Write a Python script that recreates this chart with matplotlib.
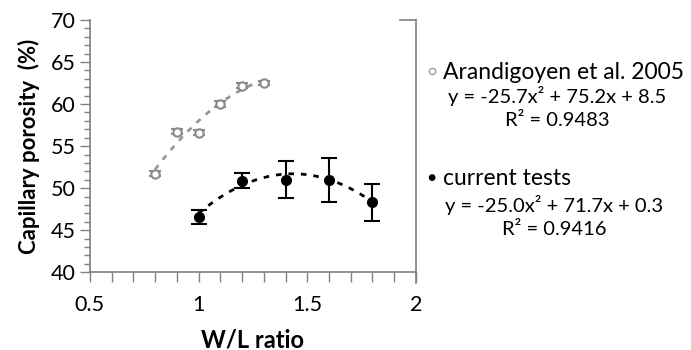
import numpy as np
import matplotlib.pyplot as plt
from matplotlib.ticker import MultipleLocator
from matplotlib.lines import Line2D

plt.rcParams['font.family'] = ['Lato', 'DejaVu Sans']

# data
wl_ar = [0.8, 0.9, 1.0, 1.1, 1.2, 1.3]
por_ar = [51.7, 56.7, 56.6, 60.0, 62.2, 62.5]
err_ar = [0.3, 0.3, 0.3, 0.4, 0.3, 0.2]

wl_cur = [1.0, 1.2, 1.4, 1.6, 1.8]
por_cur = [46.6, 50.9, 51.0, 51.0, 48.3]
err_cur = [0.8, 0.9, 2.2, 2.6, 2.2]

# trend line coefficients as printed on the chart
coef_ar = [-25.7, 75.2, 8.5]
coef_cur = [-25.0, 71.7, 0.3]

fig = plt.figure(figsize=(6.91, 3.5), dpi=100)
ax = fig.add_axes([0.130, 0.222, 0.472, 0.721])

gray = '#8a8a8a'
xa = np.linspace(min(wl_ar), max(wl_ar), 100)
ax.plot(xa, np.polyval(coef_ar, xa), ls=(0, (2, 2.5)), color='#999999', lw=2)
xc = np.linspace(min(wl_cur), max(wl_cur), 100)
ax.plot(xc, np.polyval(coef_cur, xc), ls=(0, (2, 2.5)), color='black', lw=2)

ax.errorbar(wl_ar, por_ar, yerr=err_ar, fmt='o', mfc='white', mec=gray, ecolor=gray,
            ms=6, mew=1.5, capsize=4, elinewidth=1.2, capthick=1.5)
ax.errorbar(wl_cur, por_cur, yerr=err_cur, fmt='o', color='black',
            ms=7, capsize=6, elinewidth=1.5, capthick=1.5)

ax.set_xlim(0.5, 2)
ax.set_ylim(40, 70)
ax.xaxis.set_major_locator(MultipleLocator(0.5))
ax.xaxis.set_minor_locator(MultipleLocator(0.1))
ax.yaxis.set_major_locator(MultipleLocator(5))
ax.yaxis.set_minor_locator(MultipleLocator(1))
ax.set_xticks([0.5, 1, 1.5, 2])
ax.set_xticklabels(['0.5', '1', '1.5', '2'])
for s in ['top', 'right']:
    ax.spines[s].set_visible(False)
for s in ['left', 'bottom']:
    ax.spines[s].set_color('#808080')
    ax.spines[s].set_linewidth(1.2)
ax.tick_params(which='major', length=7, color='#808080', labelsize=15.5, width=1)
ax.tick_params(which='minor', length=4, color='#808080', width=1)
ax.tick_params(axis='x', which='both', length=7, pad=9)
ax.tick_params(axis='y', which='major', pad=3)

ax.set_ylabel('Capillary porosity  (%)', fontsize=16, fontweight='bold', labelpad=8)
ax.set_xlabel('W/L ratio', fontsize=17, fontweight='bold', labelpad=10)

# frame edge and legend panel
fig.add_artist(Line2D([0.579, 0.602], [0.943, 0.943], color='#808080', lw=1.2))
fig.add_artist(Line2D([0.602, 0.602], [0.192, 0.943], color='#808080', lw=1.2))
fig.text(0.625, 0.794, '\u25CB', fontsize=10, color=gray, va='center', ha='center')
fig.text(0.641, 0.794, 'Arandigoyen et al. 2005', fontsize=16.5, va='center')
fig.text(0.806, 0.727, 'y = -25.7x\u00b2 + 75.2x + 8.5', fontsize=14.5, va='center', ha='center')
fig.text(0.806, 0.657, 'R\u00b2 = 0.9483', fontsize=14.5, va='center', ha='center')
fig.text(0.625, 0.491, '\u25CF', fontsize=10, color='black', va='center', ha='center')
fig.text(0.641, 0.491, 'current tests', fontsize=16.5, va='center')
fig.text(0.802, 0.414, 'y = -25.0x\u00b2 + 71.7x + 0.3', fontsize=14.5, va='center', ha='center')
fig.text(0.802, 0.343, 'R\u00b2 = 0.9416', fontsize=14.5, va='center', ha='center')

fig.savefig('out.png', dpi=100)
